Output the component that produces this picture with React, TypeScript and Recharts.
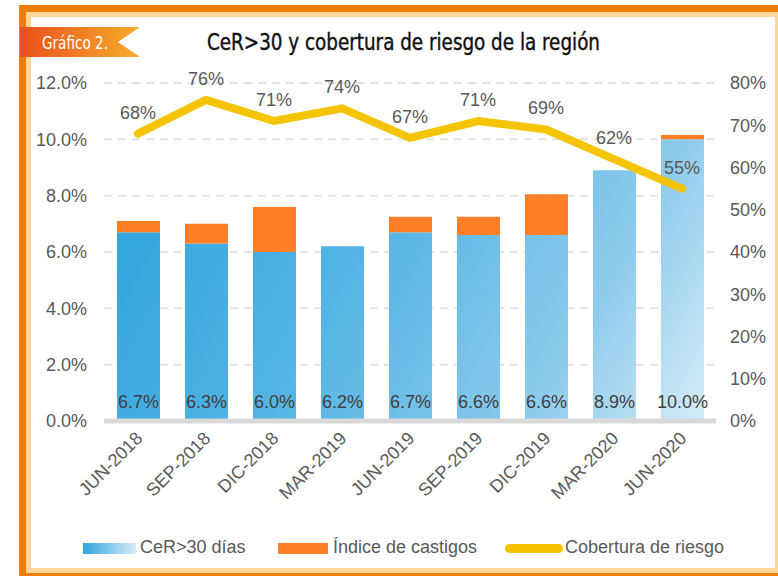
import React from "react"
import {
  Bar,
  CartesianGrid,
  ComposedChart,
  LabelList,
  Legend,
  Line,
  XAxis,
  YAxis,
} from "recharts"

// data
const periods = ["JUN-2018", "SEP-2018", "DIC-2018", "MAR-2019", "JUN-2019", "SEP-2019", "DIC-2019", "MAR-2020", "JUN-2020"]
const cer30 = [6.7, 6.3, 6.0, 6.2, 6.7, 6.6, 6.6, 8.9, 10.0]
const castigos = [0.4, 0.7, 1.6, 0, 0.55, 0.65, 1.45, 0, 0.15]
const cobertura = [68, 76, 71, 74, 67, 71, 69, 62, 55]

const leftTicks = [0, 2, 4, 6, 8, 10, 12]
const rightTicks = [0, 10, 20, 30, 40, 50, 60, 70, 80]

const data = periods.map((p, i) => ({
  name: p,
  cer: cer30[i],
  castigos: castigos[i],
  cobertura: cobertura[i],
}))

const FONT = "'Liberation Sans', Arial, sans-serif"
const NARROW = "'Liberation Sans Narrow', 'DejaVu Sans Condensed', 'Liberation Sans', sans-serif"
const GREY = "#595959"
const ORANGE = "#ff7f27"
const YELLOW = "#f5c400"

const XTick = ({ x, y, payload }: any) => (
  <text
    transform={`translate(${x + 1},${y + 12}) rotate(-45)`}
    textAnchor="end"
    dy="0.35em"
    fontSize={18}
    fontFamily={FONT}
    fill={GREY}
  >
    {payload.value}
  </text>
)

const BarLabel = (props: any) => {
  const { x, y, width, height, value } = props
  return (
    <text
      x={x + width / 2}
      y={y + height - 13}
      textAnchor="middle"
      fontSize={18}
      fontFamily={FONT}
      fill="#404040"
    >
      {Number(value).toFixed(1)}%
    </text>
  )
}

const LegendBox = () => (
  <div style={{ position: "relative", height: 28, fontFamily: FONT, fontSize: 18, color: GREY }}>
    <div
      style={{
        position: "absolute",
        left: 63,
        top: 9,
        width: 53,
        height: 11,
        background: "linear-gradient(90deg, #2fa3dd, #d6edf9)",
      }}
    />
    <span style={{ position: "absolute", left: 120, top: 3 }}>CeR&gt;30 días</span>
    <div style={{ position: "absolute", left: 258, top: 9, width: 50, height: 11, background: ORANGE }} />
    <span style={{ position: "absolute", left: 313, top: 3 }}>Índice de castigos</span>
    <div
      style={{
        position: "absolute",
        left: 485,
        top: 10,
        width: 58,
        height: 9,
        borderRadius: 5,
        background: YELLOW,
      }}
    />
    <span style={{ position: "absolute", left: 545, top: 3 }}>Cobertura de riesgo</span>
  </div>
)

function Frame() {
  return (
    <svg width={778} height={576} style={{ position: "absolute", left: 0, top: 0 }}>
      <defs>
        <linearGradient id="badgeGrad" x1="0" y1="0" x2="1" y2="0">
          <stop offset="0%" stopColor="#e8501c" />
          <stop offset="100%" stopColor="#f8ad2c" />
        </linearGradient>
      </defs>
      <rect x={0} y={0} width={778} height={576} fill="#fff" />
      {/* light inner border */}
      <rect x={26} y={12} width={752} height={5} fill="#fdd699" />
      <rect x={26} y={12} width={5} height={561} fill="#fdd699" />
      <rect x={26} y={568} width={752} height={5} fill="#fdd699" />
      <rect x={775} y={12} width={3} height={561} fill="#fdd699" />
      {/* orange outer border */}
      <rect x={19} y={5} width={759} height={7} fill="#ef7d00" />
      <rect x={19} y={5} width={7} height={571} fill="#ef7d00" />
      <rect x={19} y={573} width={759} height={3} fill="#ef7d00" />
      {/* badge */}
      <polygon points="20,27 140,27 118,42 140,57 20,57" fill="url(#badgeGrad)" />
      <text x={42} y={49} fontSize={18} fontFamily={NARROW} fill="#fff" textLength={66} lengthAdjust="spacingAndGlyphs">
        Gráfico 2.
      </text>
      <text
        x={207}
        y={50}
        fontSize={23}
        fontFamily={NARROW}
        fill="#111"
        stroke="#111"
        strokeWidth={0.4}
        textLength={393}
        lengthAdjust="spacingAndGlyphs"
      >
        CeR&gt;30 y cobertura de riesgo de la región
      </text>
    </svg>
  )
}

export default function App() {
  return (
    <div style={{ position: "absolute", left: 0, top: 0, width: 778, height: 576 }}>
      <Frame />
      <div style={{ position: "absolute", left: 0, top: 0 }}>
        <ComposedChart
          width={778}
          height={576}
          data={data}
          margin={{ top: 83, right: 0, left: 20, bottom: 14 }}
          barSize={43}
        >
          <defs>
            <linearGradient id="blueGrad" gradientUnits="userSpaceOnUse" x1={104} y1={83} x2={716} y2={421}>
              <stop offset="0.1" stopColor="#30a5de" />
              <stop offset="0.45" stopColor="#55b5e4" />
              <stop offset="0.77" stopColor="#8dcbec" />
              <stop offset="0.97" stopColor="#d0eaf7" />
            </linearGradient>
          </defs>
          <CartesianGrid
            yAxisId="left"
            vertical={false}
            stroke="#e3e3e3"
            strokeWidth={2}
            strokeDasharray="8 6"
          />
          <XAxis
            dataKey="name"
            height={113}
            interval={0}
            tickLine={false}
            tickSize={0}
            axisLine={{ stroke: "#d9d9d9", strokeWidth: 5 }}
            tick={<XTick />}
          />
          <YAxis
            yAxisId="left"
            width={84}
            domain={[0, 12]}
            ticks={leftTicks}
            tickFormatter={(v: number) => `${v.toFixed(1)}%`}
            axisLine={false}
            tickLine={false}
            tickSize={0}
            tickMargin={17}
            tick={{ fontSize: 18, fontFamily: FONT, fill: GREY }}
          />
          <YAxis
            yAxisId="right"
            orientation="right"
            width={62}
            domain={[0, 80]}
            ticks={rightTicks}
            tickFormatter={(v: number) => `${v}%`}
            axisLine={false}
            tickLine={false}
            tickSize={0}
            tickMargin={14}
            tick={{ fontSize: 18, fontFamily: FONT, fill: GREY }}
          />
          <Legend verticalAlign="bottom" height={28} content={<LegendBox />} />
          <Bar yAxisId="left" dataKey="cer" stackId="a" fill="url(#blueGrad)" isAnimationActive={false}>
            <LabelList dataKey="cer" content={<BarLabel />} />
          </Bar>
          <Bar yAxisId="left" dataKey="castigos" stackId="a" fill={ORANGE} isAnimationActive={false} />
          <Line
            yAxisId="right"
            type="linear"
            dataKey="cobertura"
            stroke={YELLOW}
            strokeWidth={8}
            strokeLinecap="round"
            strokeLinejoin="round"
            dot={false}
            activeDot={false}
            isAnimationActive={false}
          >
            <LabelList
              dataKey="cobertura"
              position="top"
              offset={15}
              formatter={(v: any) => `${v}%`}
              style={{ fontSize: 18, fontFamily: FONT, fill: GREY }}
            />
          </Line>
        </ComposedChart>
      </div>
    </div>
  )
}
